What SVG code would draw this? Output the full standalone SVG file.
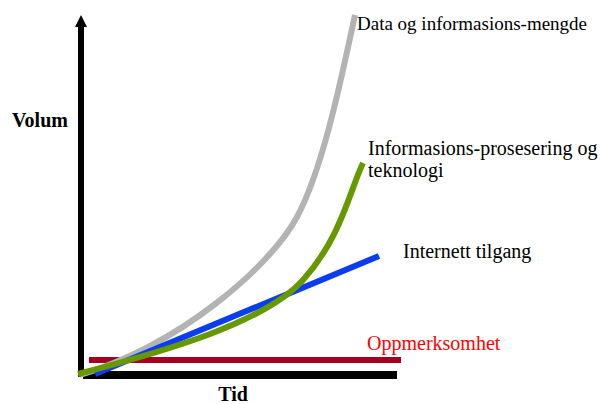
<svg xmlns="http://www.w3.org/2000/svg" width="600" height="404" viewBox="0 0 600 404">
  <style>
    .lbl { font-family: "Liberation Serif", "Times New Roman", serif; font-size: 20px; fill: #000; }
    .ax { font-family: "Liberation Serif", "Times New Roman", serif; font-size: 20px; font-weight: bold; fill: #000; }
    .curve { fill: none; stroke-width: 6; stroke-linecap: butt; }
  </style>
  <rect width="600" height="404" fill="#fff"/>
  <g id="axes">
    <line x1="81" y1="377" x2="81" y2="26" stroke="#000" stroke-width="6"/>
    <polygon points="75,27 87,27 81,15" fill="#000"/>
    <rect x="83" y="371" width="314" height="8" fill="#000"/>
    <text class="ax" x="12" y="127">Volum</text>
    <text class="ax" x="233" y="401" text-anchor="middle">Tid</text>
  </g>
  <g id="connectors">
    <line id="oppmerksomhet-line" x1="89" y1="360" x2="401" y2="360" stroke="#A50021" stroke-width="6"/>
    <path id="data-curve" class="curve" stroke="#B3B3B3" d="M80,375 C180,345 270,267 297,217 S343,70 355,15"/>
    <line id="internett-line" x1="95" y1="374" x2="379" y2="256" stroke="#0A3CF0" stroke-width="6"/>
    <path id="prosess-curve" class="curve" stroke="#669900" d="M78,374 C170,350 265,322 303,280 S350,190 363,163"/>
  </g>
  <g id="label-data"><text class="lbl" x="357" y="30" style="font-size:19px">Data og informasions-mengde</text></g>
  <g id="label-prosess">
    <text class="lbl" x="368" y="155">Informasions-prosesering og</text>
    <text class="lbl" x="368" y="177">teknologi</text>
  </g>
  <g id="label-internett"><text class="lbl" x="403" y="258">Internett tilgang</text></g>
  <g id="label-oppmerksomhet"><text class="lbl" x="367" y="350" style="fill:#FF0000">Oppmerksomhet</text></g>
</svg>
